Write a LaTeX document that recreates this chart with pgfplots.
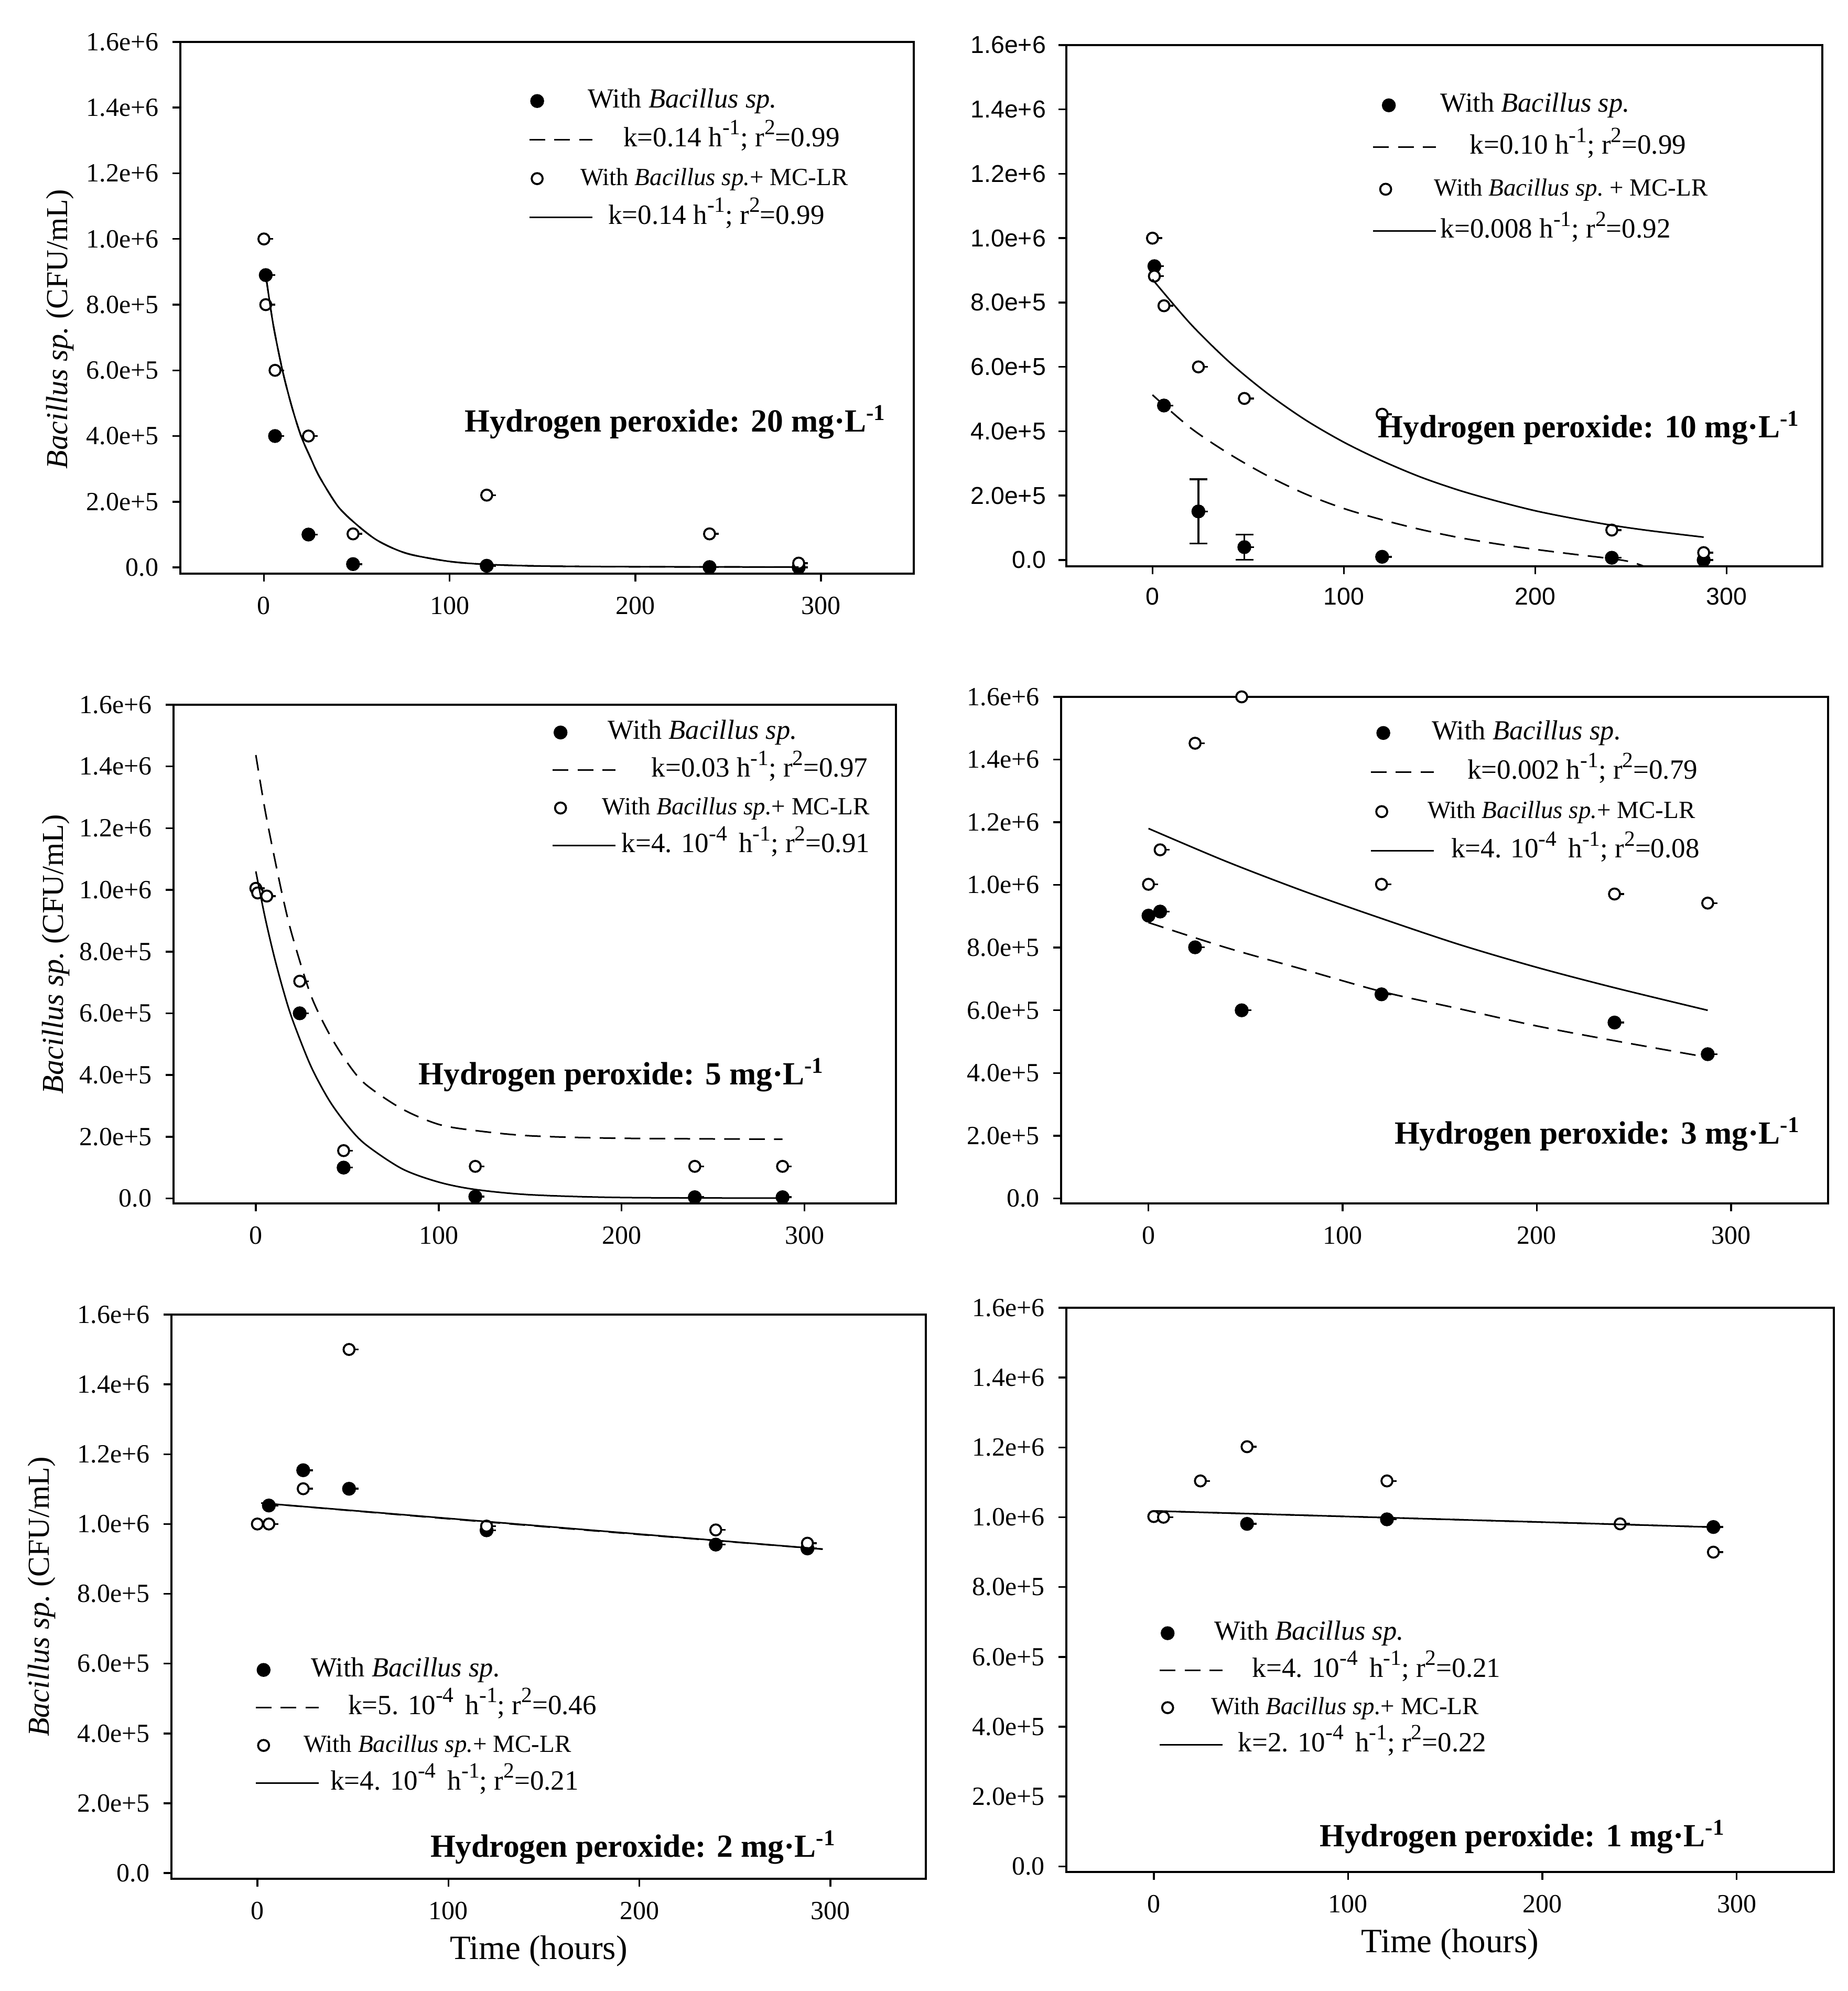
\documentclass[border=0pt]{standalone}
\usepackage{pgfplots}
\pgfplotsset{compat=1.18}
\usepackage{fontspec}
\setmainfont{Liberation Serif}
\newfontfamily\arialsans{Liberation Sans}
\newcommand{\sps}[1]{\raisebox{0.42em}{\fontsize{8.3}{9}\selectfont #1}}
\newcommand{\bac}{\textit{Bacillus sp.}}
% legend row fonts
\newcommand{\la}{\fontsize{10.5}{12}\selectfont}
\newcommand{\lk}{\fontsize{10.6}{12}\selectfont}
\newcommand{\lc}{\fontsize{9.4}{11}\selectfont}

\tikzset{hp/.style={anchor=east, inner sep=0pt, font=\bfseries\fontsize{12.3}{14}\selectfont}}
\pgfplotsset{
  panel/.style={
    scale only axis, anchor=south west,
    xmin=-45, xmax=350, ymax=1.6e6,
    xtick={0,100,200,300}, xticklabels={0,100,200,300},
    ytick={0,2e5,4e5,6e5,8e5,1e6,1.2e6,1.4e6,1.6e6},
    yticklabels={0.0,2.0e+5,4.0e+5,6.0e+5,8.0e+5,1.0e+6,1.2e+6,1.4e+6,1.6e+6},
    scaled y ticks=false,
    tick pos=left, tick align=outside, major tick length=3pt,
    every tick/.style={black, line width=0.7pt},
    axis line style={line width=0.9pt},
    clip mode=individual,
    ticklabel style={font=\fontsize{10}{12}\selectfont, inner sep=0pt},
    yticklabel style={anchor=east, xshift=-5.1pt},
    xticklabel style={anchor=north, yshift=-5.6pt},
    legend cell align=left,
    legend style={draw=none, fill=none, anchor=north west, inner sep=0pt, column sep=0pt,
      nodes={inner sep=0pt, text height=7pt, text depth=2pt, font=\la}},
    ylabel style={anchor=center, font=\fontsize{11.6}{14}\selectfont},
    xlabel style={at={(axis description cs:0.5,0)}, anchor=center, font=\fontsize{13}{15}\selectfont},
  },
  legmark/.style={legend image code/.code={\draw[##1] plot coordinates {(#1,0pt)};}},
  fpt/.style={only marks, mark=*, mark size=2.4pt,
    mark options={fill=black, draw=black, line width=0.5pt},
    error bars/x dir=plus, error bars/x fixed=5, error bars/error mark=none,
    error bars/error bar style={line width=0.7pt, black}, legmark=#1},
  fpt/.default=3pt,
  opt/.style={only marks, mark=*, mark size=2.1pt,
    mark options={fill=white, draw=black, line width=0.75pt},
    error bars/x dir=plus, error bars/x fixed=5, error bars/error mark=none,
    error bars/error bar style={line width=0.7pt, black}, legmark=#1},
  opt/.default=3pt,
  sol/.style={black, line width=0.6pt, smooth, no markers,
    legend image code/.code={\draw[##1] (0pt,0pt) -- (24pt,0pt);}},
  das/.style={sol, dash pattern=on 6pt off 3.5pt},
}

\begin{document}
\begin{tikzpicture}
\path[use as bounding box] (0pt,0pt) rectangle (704.8pt,759.4pt);

% ---- 20 mg/L
\begin{axis}[panel, at={(68.8pt,540.6pt)}, width=279.8pt, height=202.8pt, ymin=-1.9e4,
  ylabel={\bac\ (CFU/mL)}, ylabel style={at={(axis description cs:-0.164,0.46)}},
  legend style={at={(0.474,0.912)}, row sep=5.8pt}]
\addplot[fpt] coordinates {(1,8.9e5) (6,4.0e5) (24,1.0e5) (48,1.0e4) (120,5e3) (240,1e3) (288,0)};
\addlegendentry{\hspace*{-2pt}With \bac}
\addplot[das] coordinates {(1,8.9e5) (5,7.4e5) (10,6.0e5) (15,4.9e5) (20,4.0e5) (25,3.35e5) (30,2.75e5) (40,1.85e5) (50,1.3e5) (60,8.6e4) (70,5.7e4) (80,3.8e4) (100,1.8e4) (120,9e3) (150,4e3) (200,2e3) (288,1e3)};
\addlegendentry{\lk\hspace*{11.6pt}k=0.14 h\sps{-1}; r\sps{2}=0.99}
\addplot[opt] coordinates {(0,1.0e6) (1,8.0e5) (6,6.0e5) (24,4.0e5) (48,1.02e5) (120,2.2e5) (240,1.02e5) (288,1.3e4)};
\addlegendentry{\lc\hspace*{-4.8pt}With \bac+ MC-LR}
\addplot[sol] coordinates {(1,8.9e5) (5,7.4e5) (10,6.0e5) (15,4.9e5) (20,4.0e5) (25,3.35e5) (30,2.75e5) (40,1.85e5) (50,1.3e5) (60,8.6e4) (70,5.7e4) (80,3.8e4) (100,1.8e4) (120,9e3) (150,4e3) (200,2e3) (288,1e3)};
\addlegendentry{\lk\hspace*{5.8pt}k=0.14 h\sps{-1}; r\sps{2}=0.99}
\node[hp] at (axis cs:335.6,4.42e5) {Hydrogen peroxide: 20 mg·L\textsuperscript{-1}};
\end{axis}

% ---- 10 mg/L
\begin{axis}[panel, at={(406.8pt,543.4pt)}, width=288.4pt, height=198.8pt, ymin=-1.95e4,
  ticklabel style={font=\arialsans\fontsize{9.3}{11}\selectfont},
  yticklabel style={xshift=0.5pt}, xticklabel style={yshift=0.6pt},
  legend style={at={(0.404,0.908)}, row sep=7pt}]
\addplot[forget plot, only marks, mark=none, error bars/y dir=both, error bars/y explicit,
  error bars/error mark=-,
  error bars/error bar style={line width=0.7pt, black},
  error bars/error mark options={rotate=90, line width=0.7pt, mark size=3.4pt, black}]
  coordinates {(24,1.51e5) +- (0,1.0e5) (48,4.0e4) +- (0,3.9e4)};
\addplot[fpt=6pt] coordinates {(1,9.13e5) (6,4.8e5) (24,1.51e5) (48,4.0e4) (120,1.0e4) (240,7e3) (288,0)};
\addlegendentry{\hspace*{1.4pt}With \bac}
\addplot[das] coordinates {(0,5.13e5) (20,4.1e5) (40,3.3e5) (60,2.62e5) (80,2.05e5) (100,1.6e5) (120,1.25e5) (140,9.5e4) (160,7.0e4) (180,5.0e4) (200,3.3e4) (220,1.8e4) (240,4e3) (250,-6e3) (258,-2.2e4)};
\addlegendentry{\lk\hspace*{12.6pt}k=0.10 h\sps{-1}; r\sps{2}=0.99}
\addplot[opt=4.8pt] coordinates {(0,1.0e6) (1,8.82e5) (6,7.9e5) (24,6.0e5) (48,5.02e5) (120,4.53e5) (240,9.3e4) (288,2.3e4)};
\addlegendentry{\lc\hspace*{-1pt}With \bac\ + MC-LR}
\addplot[sol] coordinates {(0,8.72e5) (20,7.33e5) (40,6.16e5) (60,5.18e5) (80,4.35e5) (100,3.66e5) (120,3.08e5) (140,2.58e5) (160,2.17e5) (180,1.83e5) (200,1.53e5) (220,1.29e5) (240,1.08e5) (260,9.1e4) (288,7.1e4)};
\addlegendentry{\lk\hspace*{1.4pt}k=0.008 h\sps{-1}; r\sps{2}=0.92}
\node[hp] at (axis cs:338.7,4.1e5) {Hydrogen peroxide: 10 mg·L\textsuperscript{-1}};
\end{axis}

% ---- 5 mg/L
\begin{axis}[panel, at={(66.2pt,300.4pt)}, width=275.6pt, height=190.2pt, ymin=-1.6e4,
  ylabel={\bac\ (CFU/mL)}, ylabel style={at={(axis description cs:-0.163,0.5)}},
  legend style={at={(0.523,0.969)}, row sep=5.4pt}]
\addplot[fpt] coordinates {(24,6.0e5) (48,1.0e5) (120,6e3) (240,4e3) (288,4e3)};
\addlegendentry{\hspace*{-3.2pt}With \bac}
\addplot[das] coordinates {(0,1.437e6) (5,1.26e6) (10,1.11e6) (15,9.7e5) (20,8.5e5) (30,6.6e5) (40,5.35e5) (50,4.4e5) (60,3.7e5) (80,2.9e5) (100,2.4e5) (120,2.2e5) (150,2.03e5) (200,1.95e5) (288,1.92e5)};
\addlegendentry{\lk\hspace*{13.4pt}k=0.03 h\sps{-1}; r\sps{2}=0.97}
\addplot[opt] coordinates {(0,1.005e6) (1,9.9e5) (6,9.8e5) (24,7.04e5) (48,1.55e5) (120,1.04e5) (240,1.04e5) (288,1.04e5)};
\addlegendentry{\lc\hspace*{-5.4pt}With \bac+ MC-LR}
\addplot[sol] coordinates {(0,1.06e6) (5,9.12e5) (10,7.85e5) (15,6.75e5) (20,5.8e5) (30,4.3e5) (40,3.19e5) (50,2.37e5) (60,1.75e5) (80,9.6e4) (100,5.3e4) (120,2.9e4) (150,1.2e4) (200,3e3) (288,1e3)};
\addlegendentry{\lk\hspace*{2pt}k=4. 10\sps{-4}\, h\sps{-1}; r\sps{2}=0.91}
\node[hp] at (axis cs:311.3,4.0e5) {Hydrogen peroxide: 5 mg·L\textsuperscript{-1}};
\end{axis}

% ---- 3 mg/L
\begin{axis}[panel, at={(404.8pt,300.4pt)}, width=292.6pt, height=193.2pt, ymin=-1.6e4,
  legend style={at={(0.402,0.953)}, row sep=6pt}]
\addplot[fpt=4.8pt] coordinates {(0,9.02e5) (6,9.15e5) (24,8.01e5) (48,6.0e5) (120,6.51e5) (240,5.61e5) (288,4.6e5)};
\addlegendentry{\hspace*{-1pt}With \bac}
\addplot[das] coordinates {(0,8.8e5) (40,8.0e5) (80,7.3e5) (120,6.6e5) (160,6.05e5) (200,5.5e5) (240,5.03e5) (288,4.5e5)};
\addlegendentry{\lk\hspace*{12.6pt}k=0.002 h\sps{-1}; r\sps{2}=0.79}
\addplot[opt=4.2pt] coordinates {(0,1.002e6) (6,1.112e6) (24,1.452e6) (48,1.6e6) (120,1.002e6) (240,9.71e5) (288,9.42e5)};
\addlegendentry{\lc\hspace*{-2.6pt}With \bac+ MC-LR}
\addplot[sol] coordinates {(0,1.18e6) (40,1.075e6) (80,9.8e5) (120,8.93e5) (160,8.1e5) (200,7.37e5) (240,6.72e5) (288,6.0e5)};
\addlegendentry{\lk\hspace*{6.4pt}k=4. 10\sps{-4}\, h\sps{-1}; r\sps{2}=0.08}
\node[hp] at (axis cs:336,2.04e5) {Hydrogen peroxide: 3 mg·L\textsuperscript{-1}};
\end{axis}

% ---- 2 mg/L
\begin{axis}[panel, at={(65.4pt,42.8pt)}, width=287.8pt, height=215.2pt, ymin=-1.64e4,
  ylabel={\bac\ (CFU/mL)}, ylabel style={at={(axis description cs:-0.172,0.5)}},
  xlabel={Time (hours)}, xlabel style={yshift=-27.6pt, xshift=-3.8pt},
  legend style={at={(0.11,0.392)}, row sep=5.4pt}]
\addplot[fpt] coordinates {(6,1.053e6) (24,1.154e6) (48,1.101e6) (120,9.82e5) (240,9.41e5) (288,9.3e5)};
\addlegendentry{\hspace*{-3.2pt}With \bac}
\addplot[das] coordinates {(2,1.06e6) (100,1.015e6) (200,9.7e5) (296,9.28e5)};
\addlegendentry{\lk\hspace*{11pt}k=5. 10\sps{-4}\, h\sps{-1}; r\sps{2}=0.46}
\addplot[opt] coordinates {(0,1.0e6) (6,1.0e6) (24,1.101e6) (48,1.5e6) (120,9.94e5) (240,9.83e5) (288,9.45e5)};
\addlegendentry{\lc\hspace*{-6pt}With \bac+ MC-LR}
\addplot[sol] coordinates {(2,1.06e6) (100,1.016e6) (200,9.71e5) (296,9.28e5)};
\addlegendentry{\lk\hspace*{4.2pt}k=4. 10\sps{-4}\, h\sps{-1}; r\sps{2}=0.21}
\node[hp] at (axis cs:303.4,7.4e4) {Hydrogen peroxide: 2 mg·L\textsuperscript{-1}};
\end{axis}

% ---- 1 mg/L
\begin{axis}[panel, at={(406.8pt,45.4pt)}, width=292.8pt, height=215.2pt, ymin=-1.6e4,
  xlabel={Time (hours)}, xlabel style={yshift=-27.6pt},
  legend style={at={(0.12,0.445)}, row sep=5.2pt}]
\addplot[fpt] coordinates {(48,9.81e5) (120,9.94e5) (288,9.72e5)};
\addlegendentry{\hspace*{-3.4pt}With \bac}
\addplot[das] coordinates {(0,1.018e6) (100,1.002e6) (200,9.86e5) (292,9.71e5)};
\addlegendentry{\lk\hspace*{11pt}k=4. 10\sps{-4}\, h\sps{-1}; r\sps{2}=0.21}
\addplot[opt] coordinates {(0,1.002e6) (5,1.0e6) (24,1.104e6) (48,1.202e6) (120,1.104e6) (240,9.81e5) (288,9.0e5)};
\addlegendentry{\lc\hspace*{-4.6pt}With \bac+ MC-LR}
\addplot[sol] coordinates {(0,1.018e6) (100,1.002e6) (200,9.86e5) (292,9.71e5)};
\addlegendentry{\lk\hspace*{5.6pt}k=2. 10\sps{-4}\, h\sps{-1}; r\sps{2}=0.22}
\node[hp] at (axis cs:294.5,8.5e4) {Hydrogen peroxide: 1 mg·L\textsuperscript{-1}};
\end{axis}
\end{tikzpicture}
\end{document}
